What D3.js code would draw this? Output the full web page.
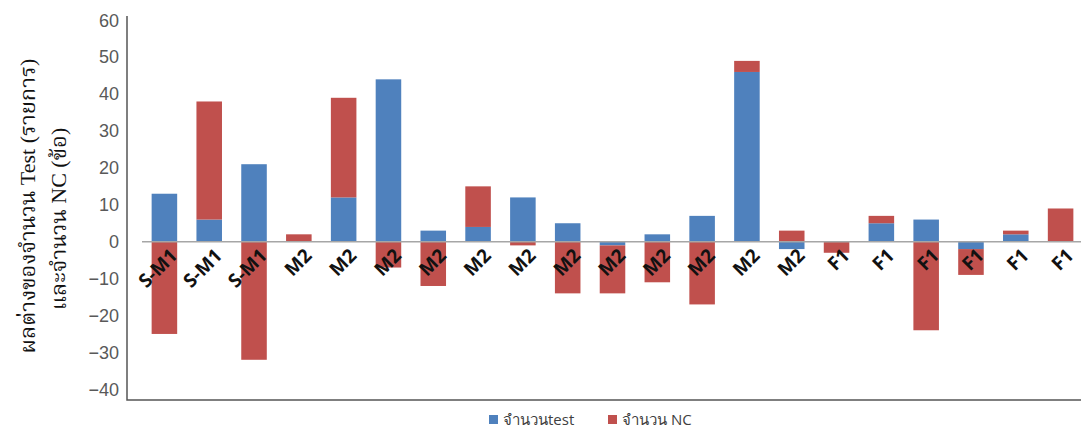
<!DOCTYPE html>
<html>
<head>
<meta charset="utf-8">
<script src="https://cdn.jsdelivr.net/npm/d3@7"></script>
<style>
  html, body { margin: 0; padding: 0; background: #fff; }
  svg { display: block; }
</style>
</head>
<body>
<svg id="chart" width="1081" height="430"></svg>
<script>
// Category labels along the horizontal axis
const categories = [
  "S-M1", "S-M1", "S-M1",
  "M2", "M2", "M2", "M2", "M2", "M2", "M2", "M2", "M2", "M2", "M2", "M2",
  "F1", "F1", "F1", "F1", "F1", "F1"
];
// Difference in number of tests (blue)
const testDiff = [13, 6, 21, 0, 12, 44, 3, 4, 12, 5, -1, 2, 7, 46, -2, 0, 5, 6, -2, 2, 0];
// Difference in number of NC items (red)
const ncDiff = [-25, 32, -32, 2, 27, -7, -12, 11, -1, -14, -13, -11, -17, 3, 3, -3, 2, -24, -7, 1, 9];
const yTicks = [60, 50, 40, 30, 20, 10, 0, -10, -20, -30, -40];
const seriesNames = ["จำนวนtest", "จำนวน NC"];
const colors = ["#4F81BD", "#C0504D"];

const svg = d3.select("#chart");
const frame = { left: 127, top: 16, bottom: 400, right: 1081 };

const y = d3.scaleLinear().domain([-40, 60]).range([389.3, 20.3]);
const x = d3.scaleBand()
  .domain(d3.range(categories.length))
  .range([142, 1083])
  .paddingInner(0.43)
  .paddingOuter(0.215);

// Stack positive values upward and negative values downward (diverging stack)
const rows = categories.map((c, i) => ({ i, test: testDiff[i], nc: ncDiff[i] }));
const stacked = d3.stack()
  .keys(["test", "nc"])
  .offset(d3.stackOffsetDiverging)(rows);

// Bars
stacked.forEach((layer, k) => {
  svg.append("g")
    .attr("fill", colors[k])
    .selectAll("rect")
    .data(layer)
    .join("rect")
    .attr("x", d => x(d.data.i))
    .attr("width", x.bandwidth())
    .attr("y", d => y(Math.max(d[0], d[1])))
    .attr("height", d => Math.abs(y(d[0]) - y(d[1])));
});

// Zero line (category axis)
svg.append("line")
  .attr("x1", 142).attr("x2", frame.right)
  .attr("y1", y(0)).attr("y2", y(0))
  .attr("stroke", "#a6a6a6").attr("stroke-width", 1.5);

// Plot frame: left and bottom edges
svg.append("path")
  .attr("d", `M${frame.left},${frame.top}V${frame.bottom}H${frame.right}`)
  .attr("fill", "none")
  .attr("stroke", "#555")
  .attr("stroke-width", 1.5);

// Value axis labels
const yAxis = d3.axisLeft(y).tickValues(yTicks).tickSize(0).tickPadding(8);
const gy = svg.append("g")
  .attr("transform", `translate(${frame.left},0)`)
  .call(yAxis);
gy.select(".domain").remove();
gy.selectAll("text")
  .attr("fill", "#595959")
  .style("font-family", "'Liberation Sans', Arial, sans-serif")
  .style("font-size", "18px");

// Category labels, rotated
svg.append("g")
  .selectAll("text")
  .data(categories)
  .join("text")
  .attr("transform", (d, i) => `translate(${x(i) + x.bandwidth() / 2 + 4},${y(0) + 5}) rotate(-45)`)
  .attr("text-anchor", "end")
  .attr("dy", "0.75em")
  .attr("fill", "#111")
  .style("font-family", "'Open Sans', 'Liberation Sans', sans-serif")
  .style("font-weight", "bold")
  .style("font-size", "19px")
  .text(d => d);

// Value axis title (two lines)
const title = svg.append("text")
  .attr("transform", "translate(0,206) rotate(-90)")
  .attr("text-anchor", "middle")
  .attr("fill", "#111")
  .style("font-family", "'Liberation Serif', 'Noto Serif Thai', 'Noto Sans Thai', serif")
  .style("font-size", "22px");
title.append("tspan").attr("x", 0).attr("y", 35).text("ผลต่างของจำนวน Test (รายการ)");
title.append("tspan").attr("x", -13).attr("y", 66).text("และจำนวน NC (ข้อ)");

// Legend
const legend = svg.append("g").attr("transform", "translate(489,420)");
const legendX = [0, 119];
seriesNames.forEach((name, k) => {
  const g = legend.append("g").attr("transform", `translate(${legendX[k]},0)`);
  g.append("rect").attr("x", 0).attr("y", -5).attr("width", 9).attr("height", 9).attr("fill", colors[k]);
  g.append("text")
    .attr("x", 14).attr("y", 0).attr("dy", "0.35em")
    .attr("fill", "#404040")
    .style("font-family", "'Open Sans', 'Noto Sans', sans-serif")
    .style("font-size", "15px")
    .text(name);
});
</script>
</body>
</html>
